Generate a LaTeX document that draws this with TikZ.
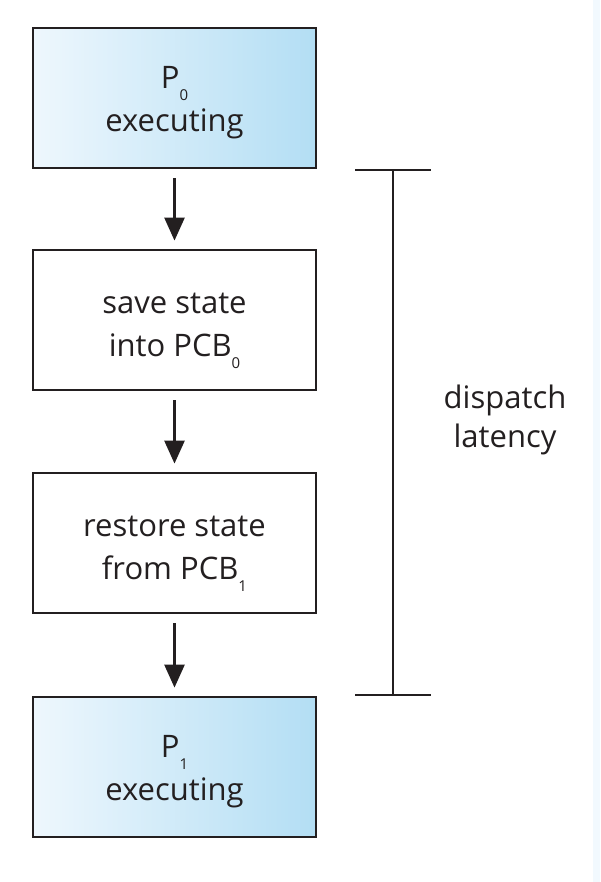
\documentclass[tikz,border=0pt]{standalone}
\usepackage{fontspec}
\setmainfont{Open Sans}
\usetikzlibrary{arrows.meta}
\definecolor{txt}{HTML}{231F20}
\definecolor{gl}{HTML}{EEF7FD}
\definecolor{gr}{HTML}{B3DEF4}
\definecolor{strip}{HTML}{F2F9FE}
\newcommand\sbs[1]{\smash{\raisebox{-12pt}{\fontsize{15}{15}\selectfont #1}}}
\begin{document}
\begin{tikzpicture}[x=1pt,y=-1pt,
  box/.style={draw=txt, line width=2.8pt, minimum width=283pt, minimum height=140pt, inner sep=0pt},
  proc/.style={box, left color=gl, right color=gr},
  boxtext/.style={align=center, font=\fontsize{31}{43}\selectfont, text=txt, inner sep=0pt, yshift=-5pt},
  flow/.style={-{Triangle[width=20pt,length=23pt]}, line width=2.6pt, draw=txt},
  bar/.style={line width=2.8pt, draw=txt},
  lbl/.style={align=center, font=\fontsize{31}{39}\selectfont, text=txt}]
\useasboundingbox (0,0) rectangle (600,882);
\fill[white] (0,0) rectangle (600,882);
\fill[strip] (593,0) rectangle (600,882);
\node[proc] (p0) at (174.5,98) {};
\node[box] (save) at (174.5,320) {};
\node[box] (restore) at (174.5,543) {};
\node[proc] (p1) at (174.5,767) {};
\node[boxtext] (p0t) at (p0.center) {P\sbs{0}\\executing};
\node[boxtext] (savet) at (save.center) {save state\\into PCB\sbs{0}};
\node[boxtext] (restoret) at (restore.center) {restore state\\from PCB\sbs{1}};
\node[boxtext] (p1t) at (p1.center) {P\sbs{1}\\executing};
\draw[flow] ([yshift=-9pt]p0.south) -- ([yshift=8pt]save.north);
\draw[flow] ([yshift=-9pt]save.south) -- ([yshift=8pt]restore.north);
\draw[flow] ([yshift=-9pt]restore.south) -- ([yshift=8pt]p1.north);
\coordinate (tl) at (355,170);
\coordinate (tr) at (431,170);
\coordinate (bl) at (355,695);
\coordinate (br) at (431,695);
\coordinate (bt) at (393,170);
\coordinate (bb) at (393,695);
\draw[bar] (tl) -- (tr);
\draw[bar] (bl) -- (br);
\draw[bar] (bt) -- (bb);
\node[lbl] (lat) at (505,420) {dispatch\\latency};
\end{tikzpicture}
\end{document}
